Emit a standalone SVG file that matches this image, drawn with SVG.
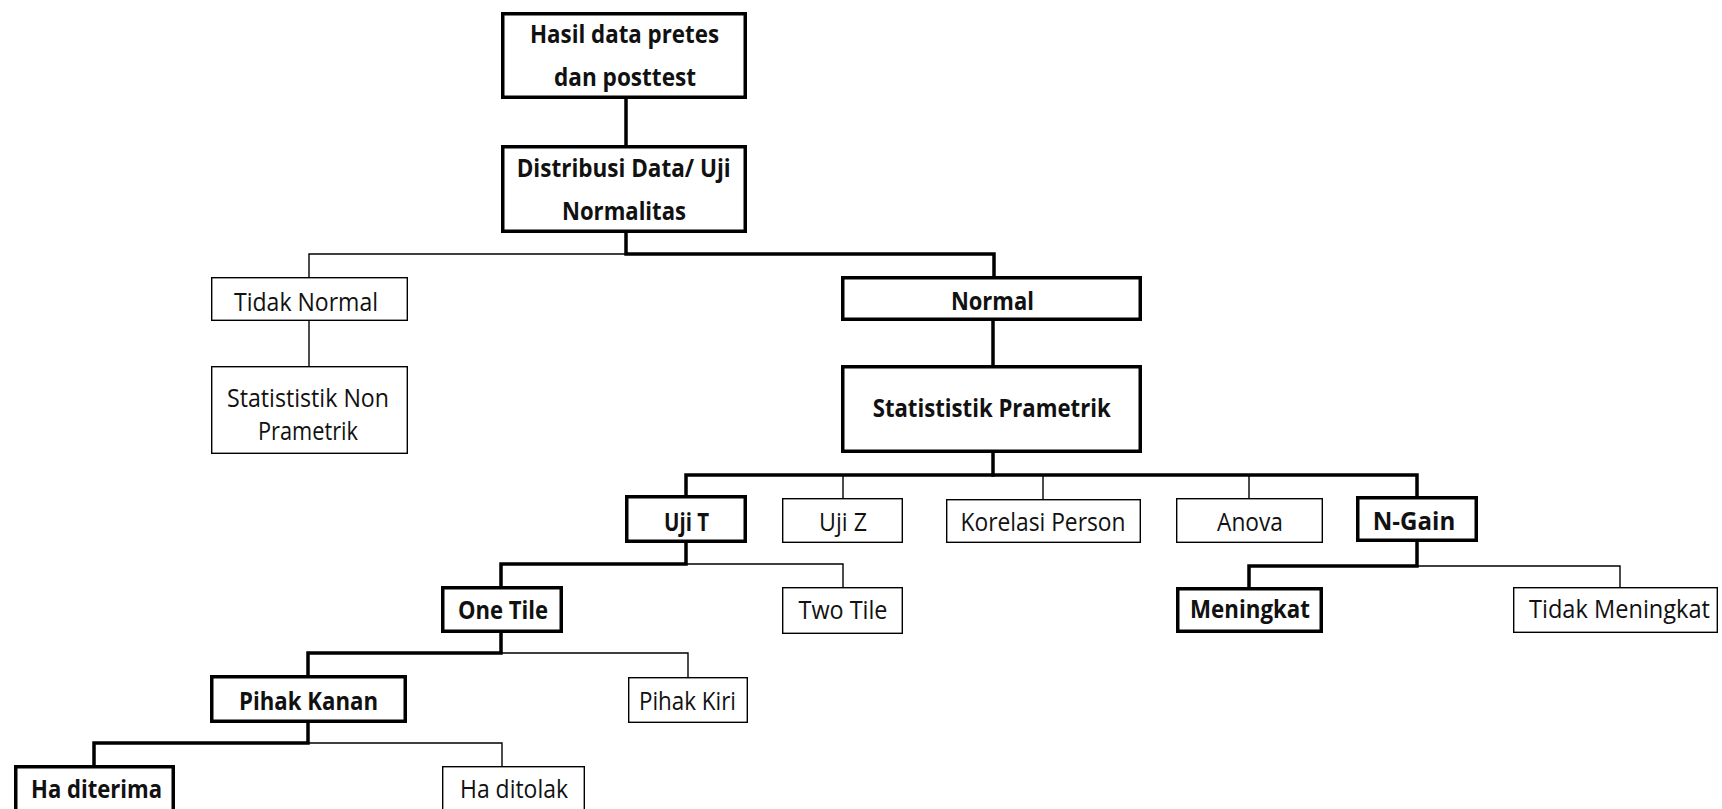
<svg xmlns="http://www.w3.org/2000/svg" width="1722" height="809" viewBox="0 0 1722 809">
<style>
.bg{fill:#ffffff}
.tk{fill:#ffffff;stroke:#000;stroke-width:3.5}
.tn{fill:#ffffff;stroke:#000;stroke-width:1.4}
.ck{fill:none;stroke:#000;stroke-width:3.5;stroke-linecap:square}
.cn{fill:none;stroke:#000;stroke-width:1.4}
text{font-family:"Open Sans","Noto Sans","Liberation Sans",sans-serif;font-size:25px;fill:#111;text-anchor:middle}
.b{font-weight:bold}
</style>
<rect class="bg" x="0" y="0" width="1722" height="809"/>
<g id="connectors">
<path class="ck" d="M626 99 V145"/>
<path class="ck" d="M626 233 V254 H994 V276"/>
<path class="cn" d="M626 254 H309 V277"/>
<path class="cn" d="M309 321 V366"/>
<path class="ck" d="M993 321 V365"/>
<path class="ck" d="M993 453 V475"/>
<path class="ck" d="M686 495 V475 H1417 V496"/>
<path class="cn" d="M843 475 V498 M1043 475 V499 M1249 475 V498"/>
<path class="ck" d="M686 543 V564 H501 V586"/>
<path class="cn" d="M686 564 H843 V587"/>
<path class="ck" d="M501 633 V653 H308 V675"/>
<path class="cn" d="M501 653 H688 V677"/>
<path class="ck" d="M308 723 V743 H94 V765"/>
<path class="cn" d="M308 743 H502 V766"/>
<path class="ck" d="M1417 542 V566 H1249 V587"/>
<path class="cn" d="M1417 566 H1620 V587"/>
</g>
<g id="n-hasil"><rect class="tk" x="502.75" y="13.75" width="242.5" height="83.5"/><text class="b" x="624.5" y="43" textLength="189" lengthAdjust="spacingAndGlyphs">Hasil data pretes</text><text class="b" x="625" y="86" textLength="142" lengthAdjust="spacingAndGlyphs">dan posttest</text></g>
<g id="n-distribusi"><rect class="tk" x="502.75" y="146.75" width="242.5" height="84.5"/><text class="b" x="623.7" y="177" textLength="214" lengthAdjust="spacingAndGlyphs">Distribusi Data/ Uji</text><text class="b" x="624" y="220" textLength="124" lengthAdjust="spacingAndGlyphs">Normalitas</text></g>
<g id="n-tidaknormal"><rect class="tn" x="211.7" y="277.7" width="195.6" height="42.6"/><text x="306" y="311" textLength="144" lengthAdjust="spacingAndGlyphs">Tidak Normal</text></g>
<g id="n-nonprametrik"><rect class="tn" x="211.7" y="366.7" width="195.6" height="86.6"/><text x="308" y="407" textLength="162" lengthAdjust="spacingAndGlyphs">Statististik Non</text><text x="308" y="440" textLength="100" lengthAdjust="spacingAndGlyphs">Prametrik</text></g>
<g id="n-normal"><rect class="tk" x="842.75" y="277.75" width="297.5" height="41.5"/><text class="b" x="992.4" y="310" textLength="83" lengthAdjust="spacingAndGlyphs">Normal</text></g>
<g id="n-prametrik"><rect class="tk" x="842.75" y="366.75" width="297.5" height="84.5"/><text class="b" x="991.7" y="417" textLength="238" lengthAdjust="spacingAndGlyphs">Statististik Prametrik</text></g>
<g id="n-ujit"><rect class="tk" x="626.75" y="496.75" width="118.5" height="44.5"/><text class="b" x="686.5" y="531" textLength="45" lengthAdjust="spacingAndGlyphs">Uji T</text></g>
<g id="n-ujiz"><rect class="tn" x="782.7" y="498.7" width="119.6" height="43.6"/><text x="843" y="531" textLength="48" lengthAdjust="spacingAndGlyphs">Uji Z</text></g>
<g id="n-korelasi"><rect class="tn" x="946.7" y="499.7" width="193.6" height="42.6"/><text x="1043" y="531" textLength="165" lengthAdjust="spacingAndGlyphs">Korelasi Person</text></g>
<g id="n-anova"><rect class="tn" x="1176.7" y="498.7" width="145.6" height="43.6"/><text x="1250" y="531" textLength="66" lengthAdjust="spacingAndGlyphs">Anova</text></g>
<g id="n-ngain"><rect class="tk" x="1357.75" y="497.75" width="118.5" height="42.5"/><text class="b" x="1414" y="530" textLength="82.5" lengthAdjust="spacingAndGlyphs">N-Gain</text></g>
<g id="n-onetile"><rect class="tk" x="442.75" y="587.75" width="118.5" height="43.5"/><text class="b" x="503" y="619" textLength="90" lengthAdjust="spacingAndGlyphs">One Tile</text></g>
<g id="n-twotile"><rect class="tn" x="782.7" y="587.7" width="119.6" height="45.6"/><text x="843" y="619" textLength="89" lengthAdjust="spacingAndGlyphs">Two Tile</text></g>
<g id="n-meningkat"><rect class="tk" x="1177.75" y="588.75" width="143.5" height="42.5"/><text class="b" x="1250" y="618" textLength="120" lengthAdjust="spacingAndGlyphs">Meningkat</text></g>
<g id="n-tidakmeningkat"><rect class="tn" x="1513.7" y="587.7" width="203.6" height="44.6"/><text x="1619.5" y="618" textLength="181" lengthAdjust="spacingAndGlyphs">Tidak Meningkat</text></g>
<g id="n-pihakkanan"><rect class="tk" x="211.75" y="676.75" width="193.5" height="44.5"/><text class="b" x="308.5" y="710" textLength="139" lengthAdjust="spacingAndGlyphs">Pihak Kanan</text></g>
<g id="n-pihakkiri"><rect class="tn" x="628.7" y="677.7" width="118.6" height="44.6"/><text x="687.5" y="710" textLength="97" lengthAdjust="spacingAndGlyphs">Pihak Kiri</text></g>
<g id="n-hasditerima"><rect class="tk" x="15.75" y="766.75" width="157.5" height="60"/><text class="b" x="96.5" y="798" textLength="131" lengthAdjust="spacingAndGlyphs">Ha diterima</text></g>
<g id="n-haditolak"><rect class="tn" x="442.7" y="766.7" width="141.6" height="60"/><text x="514" y="798" textLength="108" lengthAdjust="spacingAndGlyphs">Ha ditolak</text></g>
</svg>
